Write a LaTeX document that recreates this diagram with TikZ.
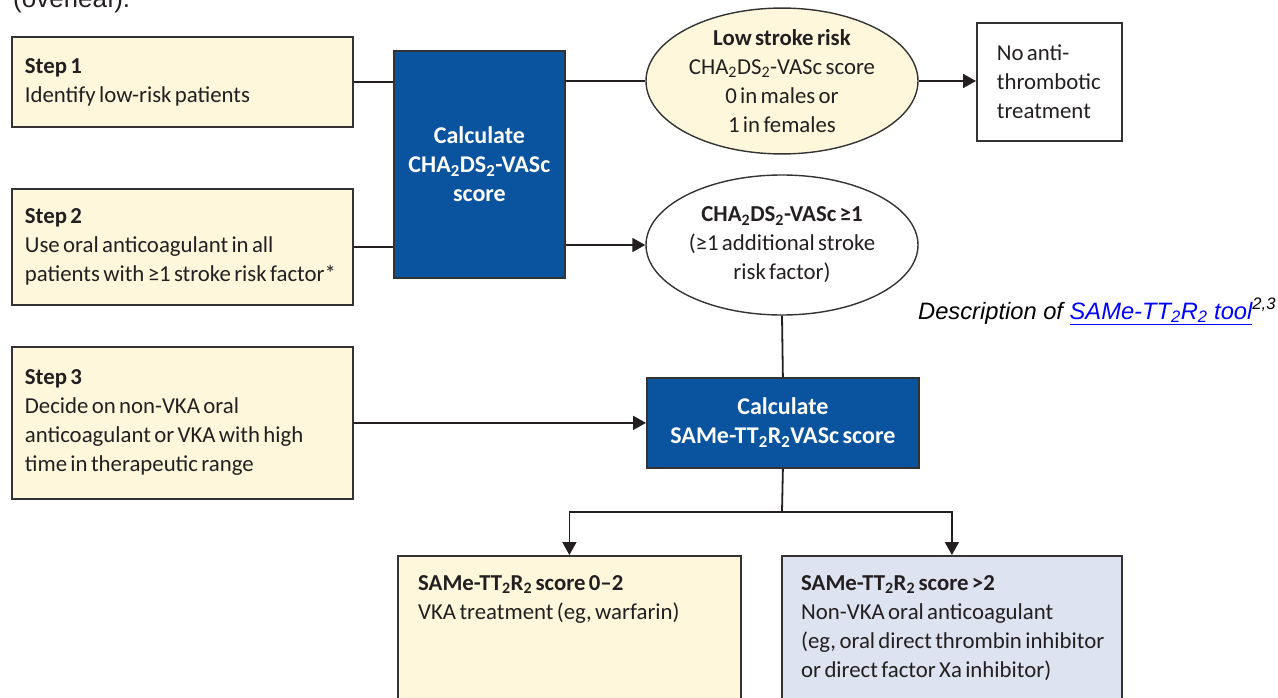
\documentclass[tikz,border=0pt]{standalone}
\usepackage{fontspec}
\setmainfont{Carlito}[WordSpace={0.65,0.5,0.5}]
\newfontfamily\arialfont{Liberation Sans}
\usetikzlibrary{arrows.meta,shapes.geometric}
\definecolor{cream}{HTML}{FFF7DC}
\definecolor{lancetblue}{HTML}{0A539E}
\definecolor{paleblue}{HTML}{DDE3F0}
\definecolor{ink}{HTML}{231F20}
\definecolor{edge}{HTML}{333333}
\definecolor{linkblue}{HTML}{0000FF}
\begin{document}
\begin{tikzpicture}[x=1pt,y=-1pt,
  txt/.style={font=\fontsize{22.8}{29}\selectfont, text=ink},
  stepbox/.style={txt, draw=edge, line width=1.8pt, fill=cream, anchor=north west,
    inner xsep=13pt, inner ysep=0pt, align=flush left, text width=315pt, minimum width=341pt},
  bluebox/.style={draw=edge, line width=1.8pt, fill=lancetblue, text=white,
    font=\bfseries\fontsize{24}{29}\selectfont, align=center, anchor=north west, inner sep=0pt},
  oval/.style={ellipse, draw=edge, line width=1.4pt, txt, align=center, inner sep=0pt},
  plainbox/.style={draw=edge, line width=1.8pt, anchor=north west, inner sep=0pt},
  boxtext/.style={txt, anchor=north west, inner sep=0pt, align=left},
  conn/.style={draw=ink, line width=1.8pt},
  arr/.style={conn, -{Triangle[length=13pt,width=14pt]}},
]
\useasboundingbox (0,0) rectangle (1278,698);

\node[anchor=base west, inner sep=0pt, font=\arialfont\fontsize{26}{30}\selectfont, text=ink] (over) at (13,8) {(overleaf).};

% steps
\node[stepbox, minimum height=90pt] (s1) at (11,36)
  {{\bfseries Step 1}\\Identify low-risk patients};
\node[stepbox, minimum height=116pt] (s2) at (11,188)
  {{\bfseries Step 2}\\Use oral anticoagulant in all\\\mbox{patients with ≥1 stroke risk factor*}};
\node[stepbox, minimum height=152pt] (s3) at (11,346)
  {{\bfseries Step 3}\\Decide on non-VKA oral\\anticoagulant or VKA with high\\time in therapeutic range};

% calculation boxes
\node[bluebox, minimum width=171pt, minimum height=227pt] (calc1) at (393,50)
  {Calculate\\CHA\textsubscript{2}DS\textsubscript{2}-VASc\\score};
\node[bluebox, minimum width=272pt, minimum height=90pt] (calc2) at (646,377)
  {Calculate\\SAMe-TT\textsubscript{2}R\textsubscript{2}VASc score};

% ellipses
\node[oval, fill=cream, minimum width=272pt, minimum height=138pt] (e1) at (782,81)
  {{\bfseries Low stroke risk}\\CHA\textsubscript{2}DS\textsubscript{2}-VASc score\\0 in males or\\1 in females};
\node[oval, fill=white, minimum width=272pt, minimum height=140pt] (e2) at (782,245)
  {{\bfseries CHA\textsubscript{2}DS\textsubscript{2}-VASc ≥1}\\(≥1 additional stroke\\risk factor)};

% no treatment box
\node[plainbox, txt, fill=white, align=flush left, inner xsep=20pt, text width=105pt,
  minimum width=145pt, minimum height=118pt] (noanti) at (976,22)
  {No anti-\\thrombotic\\treatment};

% outcome boxes
\node[plainbox, fill=cream, minimum width=343pt, minimum height=170pt] (b1) at (397,555) {};
\node[plainbox, fill=paleblue, minimum width=340pt, minimum height=170pt] (b2) at (781,555) {};
\node[boxtext] (b1t) at (418,575)
  {{\bfseries SAMe-TT\textsubscript{2}R\textsubscript{2} score 0–2}\\VKA treatment (eg, warfarin)};
\node[boxtext] (b2t) at (801,575)
  {{\bfseries SAMe-TT\textsubscript{2}R\textsubscript{2} score >2}\\Non-VKA oral anticoagulant\\(eg, oral direct thrombin inhibitor\\or direct factor Xa inhibitor)};

% description
\node[anchor=base west, inner sep=0pt, font=\arialfont\itshape\fontsize{23.7}{28}\selectfont, text=black] (desc) at (918,319)
  {Description of \textcolor{linkblue}{\underline{SAMe-TT\textsubscript{2}R\textsubscript{2} tool}}\textsuperscript{2,3}};

% connectors
\draw[conn] (s1.east) -- (s1.east -| calc1.west);
\draw[conn] (e1.west -| calc1.east) -- (e1.west);
\draw[arr] (e1.east) -- (e1.east -| noanti.west);
\draw[conn] (s2.east) -- (s2.east -| calc1.west);
\draw[arr] (e2.west -| calc1.east) -- (e2.west);
\draw[conn] (e2.south) -- (calc2.north);
\draw[arr] (s3.east) -- (s3.east -| calc2.west);
\coordinate (split) at (782,512);
\draw[conn] (calc2.south) -- (split);
\draw[arr] (split) -| (b1.north);
\draw[arr] (split) -| (b2.north);
\end{tikzpicture}
\end{document}
